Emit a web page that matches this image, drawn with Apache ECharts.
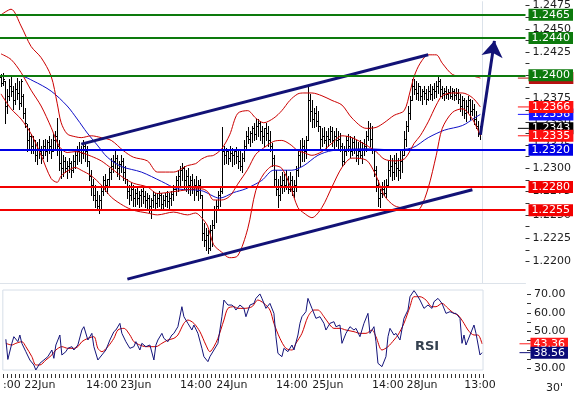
<!DOCTYPE html>
<html><head><meta charset="utf-8">
<script src="https://cdn.jsdelivr.net/npm/echarts@6/dist/echarts.min.js"></script>
<style>html,body{margin:0;padding:0;background:#fff}#c{width:574px;height:396px}</style>
</head><body><div id="c"></div>
<script>
// ---- price bars, 30' : [open, high, low, close]
const bars = [
[1.2398,1.2401,1.2388,1.2392],[1.2392,1.2402,1.2390,1.2396],[1.2394,1.2394,1.2349,1.2367],[1.2367,1.2385,1.2360,1.2378],
[1.2378,1.2396,1.2373,1.2389],[1.2389,1.2399,1.2378,1.2383],[1.2383,1.2389,1.2364,1.2373],[1.2373,1.2392,1.2369,1.2385],
[1.2385,1.2397,1.2375,1.2381],[1.2381,1.2394,1.2364,1.2370],[1.2370,1.2396,1.2367,1.2394],[1.2378,1.2380,1.2354,1.2360],
[1.2360,1.2365,1.2344,1.2349],[1.2346,1.2348,1.2319,1.2330],[1.2330,1.2343,1.2321,1.2335],[1.2335,1.2337,1.2316,1.2324],
[1.2324,1.2335,1.2317,1.2330],[1.2330,1.2330,1.2308,1.2314],[1.2314,1.2328,1.2305,1.2321],[1.2321,1.2332,1.2311,1.2319],
[1.2319,1.2324,1.2306,1.2314],[1.2314,1.2330,1.2311,1.2324],[1.2324,1.2332,1.2314,1.2319],[1.2319,1.2330,1.2308,1.2328],
[1.2328,1.2335,1.2317,1.2324],[1.2324,1.2332,1.2311,1.2319],[1.2319,1.2337,1.2319,1.2330],[1.2330,1.2340,1.2321,1.2335],
[1.2335,1.2354,1.2314,1.2324],[1.2324,1.2330,1.2298,1.2306],[1.2306,1.2319,1.2290,1.2300],[1.2300,1.2314,1.2292,1.2308],
[1.2308,1.2312,1.2296,1.2300],[1.2300,1.2308,1.2290,1.2303],[1.2303,1.2311,1.2296,1.2306],[1.2306,1.2308,1.2291,1.2298],
[1.2298,1.2314,1.2296,1.2308],[1.2308,1.2319,1.2300,1.2314],[1.2314,1.2324,1.2305,1.2319],[1.2319,1.2328,1.2308,1.2321],
[1.2321,1.2324,1.2306,1.2317],[1.2317,1.2330,1.2311,1.2324],[1.2324,1.2328,1.2308,1.2319],[1.2319,1.2324,1.2303,1.2308],
[1.2308,1.2308,1.2287,1.2292],[1.2292,1.2298,1.2271,1.2282],[1.2282,1.2289,1.2266,1.2271],[1.2271,1.2282,1.2258,1.2266],
[1.2266,1.2276,1.2255,1.2260],[1.2260,1.2271,1.2252,1.2266],[1.2266,1.2282,1.2257,1.2276],[1.2276,1.2292,1.2271,1.2287],
[1.2287,1.2294,1.2276,1.2282],[1.2282,1.2289,1.2273,1.2289],[1.2289,1.2300,1.2282,1.2296],[1.2296,1.2311,1.2289,1.2303],
[1.2303,1.2314,1.2296,1.2308],[1.2308,1.2319,1.2300,1.2311],[1.2311,1.2314,1.2292,1.2300],[1.2300,1.2308,1.2289,1.2305],
[1.2305,1.2314,1.2296,1.2308],[1.2308,1.2311,1.2287,1.2296],[1.2296,1.2303,1.2284,1.2289],[1.2289,1.2289,1.2268,1.2276],
[1.2276,1.2282,1.2262,1.2271],[1.2271,1.2284,1.2266,1.2278],[1.2278,1.2282,1.2260,1.2268],[1.2268,1.2278,1.2260,1.2274],
[1.2274,1.2280,1.2262,1.2268],[1.2268,1.2276,1.2258,1.2271],[1.2271,1.2278,1.2260,1.2276],[1.2276,1.2280,1.2263,1.2270],
[1.2270,1.2276,1.2259,1.2266],[1.2266,1.2274,1.2257,1.2268],[1.2268,1.2271,1.2253,1.2260],[1.2260,1.2268,1.2247,1.2266],
[1.2266,1.2276,1.2258,1.2271],[1.2271,1.2274,1.2257,1.2263],[1.2263,1.2273,1.2259,1.2268],[1.2268,1.2276,1.2260,1.2271],
[1.2271,1.2273,1.2257,1.2262],[1.2262,1.2271,1.2255,1.2266],[1.2266,1.2274,1.2260,1.2270],[1.2270,1.2276,1.2259,1.2265],
[1.2265,1.2274,1.2257,1.2268],[1.2268,1.2276,1.2261,1.2272],[1.2272,1.2282,1.2266,1.2278],[1.2278,1.2292,1.2271,1.2287],
[1.2287,1.2298,1.2276,1.2292],[1.2292,1.2303,1.2282,1.2298],[1.2298,1.2306,1.2287,1.2300],[1.2300,1.2303,1.2278,1.2287],
[1.2287,1.2298,1.2276,1.2292],[1.2292,1.2300,1.2274,1.2282],[1.2282,1.2292,1.2271,1.2287],[1.2287,1.2294,1.2273,1.2278],
[1.2278,1.2289,1.2266,1.2282],[1.2282,1.2292,1.2271,1.2276],[1.2276,1.2287,1.2266,1.2282],[1.2282,1.2289,1.2268,1.2271],
[1.2271,1.2271,1.2223,1.2231],[1.2231,1.2241,1.2217,1.2223],[1.2223,1.2236,1.2212,1.2228],[1.2228,1.2234,1.2209,1.2214],
[1.2214,1.2239,1.2212,1.2234],[1.2234,1.2244,1.2217,1.2239],[1.2239,1.2260,1.2236,1.2255],[1.2255,1.2266,1.2242,1.2260],
[1.2260,1.2276,1.2255,1.2271],[1.2271,1.2280,1.2260,1.2276],[1.2276,1.2344,1.2274,1.2319],[1.2319,1.2324,1.2305,1.2314],
[1.2314,1.2322,1.2306,1.2319],[1.2319,1.2321,1.2305,1.2311],[1.2311,1.2324,1.2308,1.2317],[1.2317,1.2322,1.2303,1.2314],
[1.2314,1.2319,1.2305,1.2319],[1.2319,1.2323,1.2306,1.2313],[1.2313,1.2321,1.2300,1.2308],[1.2308,1.2319,1.2298,1.2303],
[1.2303,1.2317,1.2296,1.2311],[1.2311,1.2330,1.2308,1.2324],[1.2324,1.2340,1.2321,1.2335],[1.2335,1.2344,1.2327,1.2332],
[1.2332,1.2340,1.2324,1.2338],[1.2338,1.2346,1.2328,1.2343],[1.2343,1.2349,1.2330,1.2337],[1.2337,1.2353,1.2332,1.2346],
[1.2346,1.2353,1.2335,1.2349],[1.2349,1.2351,1.2330,1.2340],[1.2340,1.2346,1.2327,1.2335],[1.2335,1.2343,1.2324,1.2343],
[1.2343,1.2349,1.2330,1.2338],[1.2338,1.2346,1.2324,1.2330],[1.2330,1.2340,1.2319,1.2324],[1.2324,1.2327,1.2303,1.2311],
[1.2311,1.2314,1.2282,1.2289],[1.2289,1.2298,1.2271,1.2278],[1.2278,1.2289,1.2258,1.2271],[1.2271,1.2292,1.2266,1.2282],
[1.2282,1.2296,1.2274,1.2287],[1.2287,1.2294,1.2276,1.2282],[1.2282,1.2298,1.2278,1.2289],[1.2289,1.2292,1.2273,1.2278],
[1.2278,1.2296,1.2276,1.2287],[1.2287,1.2292,1.2271,1.2276],[1.2276,1.2287,1.2269,1.2282],[1.2282,1.2303,1.2276,1.2298],
[1.2298,1.2319,1.2292,1.2314],[1.2314,1.2330,1.2303,1.2321],[1.2321,1.2333,1.2308,1.2324],[1.2324,1.2330,1.2308,1.2319],
[1.2319,1.2335,1.2311,1.2330],[1.2330,1.2388,1.2330,1.2373],[1.2373,1.2380,1.2351,1.2362],[1.2362,1.2373,1.2344,1.2353],
[1.2353,1.2365,1.2344,1.2360],[1.2360,1.2367,1.2346,1.2351],[1.2351,1.2362,1.2340,1.2346],[1.2346,1.2346,1.2322,1.2332],
[1.2332,1.2343,1.2324,1.2335],[1.2335,1.2344,1.2327,1.2330],[1.2330,1.2340,1.2322,1.2335],[1.2335,1.2343,1.2324,1.2332],
[1.2332,1.2346,1.2328,1.2340],[1.2340,1.2344,1.2324,1.2330],[1.2330,1.2340,1.2322,1.2335],[1.2335,1.2343,1.2324,1.2330],
[1.2330,1.2340,1.2321,1.2332],[1.2332,1.2338,1.2319,1.2324],[1.2324,1.2327,1.2303,1.2308],[1.2308,1.2324,1.2305,1.2319],
[1.2319,1.2335,1.2314,1.2330],[1.2330,1.2337,1.2319,1.2324],[1.2324,1.2335,1.2312,1.2319],[1.2319,1.2333,1.2314,1.2328],
[1.2328,1.2335,1.2317,1.2321],[1.2321,1.2330,1.2308,1.2314],[1.2314,1.2328,1.2305,1.2319],[1.2319,1.2330,1.2311,1.2314],
[1.2314,1.2328,1.2306,1.2321],[1.2321,1.2332,1.2314,1.2324],[1.2324,1.2340,1.2319,1.2335],[1.2335,1.2351,1.2330,1.2343],
[1.2343,1.2349,1.2324,1.2332],[1.2332,1.2346,1.2316,1.2321],[1.2321,1.2321,1.2292,1.2298],[1.2298,1.2303,1.2276,1.2282],
[1.2282,1.2287,1.2260,1.2268],[1.2268,1.2278,1.2258,1.2274],[1.2274,1.2285,1.2269,1.2278],[1.2278,1.2287,1.2271,1.2274],
[1.2274,1.2289,1.2269,1.2282],[1.2282,1.2308,1.2282,1.2298],[1.2298,1.2314,1.2292,1.2303],[1.2303,1.2311,1.2287,1.2296],
[1.2296,1.2314,1.2289,1.2306],[1.2306,1.2316,1.2292,1.2300],[1.2300,1.2311,1.2287,1.2298],[1.2298,1.2319,1.2290,1.2308],
[1.2308,1.2319,1.2296,1.2314],[1.2314,1.2340,1.2314,1.2332],[1.2332,1.2351,1.2324,1.2346],[1.2346,1.2367,1.2340,1.2360],
[1.2360,1.2378,1.2353,1.2373],[1.2373,1.2396,1.2373,1.2389],[1.2389,1.2396,1.2380,1.2385],[1.2385,1.2394,1.2375,1.2381],
[1.2381,1.2392,1.2373,1.2389],[1.2389,1.2389,1.2373,1.2378],[1.2378,1.2385,1.2369,1.2383],[1.2383,1.2389,1.2375,1.2381],
[1.2381,1.2385,1.2369,1.2375],[1.2375,1.2389,1.2373,1.2383],[1.2383,1.2391,1.2375,1.2380],[1.2380,1.2389,1.2373,1.2385],
[1.2385,1.2392,1.2376,1.2383],[1.2383,1.2394,1.2377,1.2389],[1.2389,1.2399,1.2381,1.2394],[1.2394,1.2396,1.2378,1.2385],
[1.2385,1.2389,1.2376,1.2381],[1.2381,1.2386,1.2373,1.2383],[1.2383,1.2389,1.2376,1.2380],[1.2380,1.2385,1.2375,1.2382],
[1.2382,1.2388,1.2376,1.2378],[1.2378,1.2386,1.2374,1.2383],[1.2383,1.2385,1.2373,1.2379],[1.2379,1.2386,1.2375,1.2381],
[1.2381,1.2385,1.2370,1.2375],[1.2375,1.2380,1.2362,1.2367],[1.2367,1.2378,1.2357,1.2373],[1.2373,1.2376,1.2354,1.2360],
[1.2360,1.2373,1.2351,1.2367],[1.2367,1.2378,1.2359,1.2373],[1.2373,1.2375,1.2353,1.2362],[1.2362,1.2373,1.2357,1.2364],
[1.2364,1.2369,1.2348,1.2353],[1.2353,1.2362,1.2343,1.2346],[1.2346,1.2351,1.2335,1.2338],[1.2338,1.2346,1.2332,1.2343]
];
// ---- Bollinger bands and moving average, read at sample bars: [bar, price]
const bandUpper = [[0,1.2465],[5,1.2471],[10,1.2453],[15,1.2431],[20,1.2419],[25,1.2399],[28,1.2370],[30,1.2349],[33,1.2337],[37,1.2334],[40,1.2333],[45,1.2335],[50,1.2333],[55,1.2330],[61,1.2319],[66,1.2312],[73,1.2308],[78,1.2296],[86,1.2296],[93,1.2303],[97,1.2305],[100,1.2310],[103,1.2313],[106,1.2314],[110,1.2321],[114,1.2336],[118,1.2359],[123,1.2362],[127,1.2354],[131,1.2349],[136,1.2354],[140,1.2362],[144,1.2373],[148,1.2380],[151,1.2381],[155,1.2381],[160,1.2378],[165,1.2373],[170,1.2368],[175,1.2354],[182,1.2343],[187,1.2344],[191,1.2349],[196,1.2357],[201,1.2362],[204,1.2383],[206,1.2399],[209,1.2413],[213,1.2422],[217,1.2422],[220,1.2413],[225,1.2401],[230,1.2399],[235,1.2399],[239,1.2397]];
const bandMiddle = [[0,1.2423],[5,1.2417],[10,1.2403],[15,1.2384],[20,1.2367],[25,1.2344],[28,1.2328],[30,1.2321],[33,1.2317],[37,1.2318],[40,1.2317],[45,1.2313],[50,1.2308],[55,1.2300],[61,1.2290],[66,1.2284],[73,1.2280],[78,1.2273],[86,1.2275],[93,1.2277],[97,1.2278],[100,1.2278],[103,1.2275],[106,1.2266],[110,1.2266],[114,1.2270],[118,1.2283],[123,1.2299],[127,1.2315],[131,1.2322],[136,1.2329],[140,1.2330],[144,1.2326],[148,1.2319],[151,1.2317],[155,1.2314],[160,1.2318],[165,1.2327],[170,1.2335],[175,1.2333],[182,1.2325],[187,1.2318],[191,1.2310],[196,1.2308],[201,1.2310],[204,1.2319],[206,1.2327],[209,1.2335],[213,1.2350],[217,1.2368],[220,1.2378],[225,1.2381],[230,1.2381],[235,1.2376],[239,1.2366]];
const bandLower = [[0,1.2380],[5,1.2364],[10,1.2353],[15,1.2337],[20,1.2314],[25,1.2289],[28,1.2285],[30,1.2292],[33,1.2297],[37,1.2301],[40,1.2298],[45,1.2292],[50,1.2282],[55,1.2269],[61,1.2260],[66,1.2255],[73,1.2252],[78,1.2250],[86,1.2253],[93,1.2250],[97,1.2252],[100,1.2247],[103,1.2238],[106,1.2218],[110,1.2210],[114,1.2204],[118,1.2206],[123,1.2235],[127,1.2276],[131,1.2294],[136,1.2303],[140,1.2300],[144,1.2282],[148,1.2258],[151,1.2252],[155,1.2247],[160,1.2258],[165,1.2280],[170,1.2301],[175,1.2311],[182,1.2309],[187,1.2292],[191,1.2271],[196,1.2260],[201,1.2257],[204,1.2255],[206,1.2255],[209,1.2257],[213,1.2279],[217,1.2314],[220,1.2343],[225,1.2360],[230,1.2364],[235,1.2353],[239,1.2335]];
const movingAvg = [[0,1.2399],[10,1.2399],[16,1.2394],[25,1.2383],[33,1.2367],[38,1.2353],[43,1.2338],[48,1.2325],[53,1.2312],[60,1.2302],[70,1.2296],[80,1.2286],[88,1.2278],[100,1.2276],[109,1.2268],[116,1.2274],[122,1.2278],[130,1.2287],[136,1.2298],[145,1.2298],[151,1.2303],[158,1.2314],[165,1.2319],[182,1.2321],[195,1.2320],[205,1.2322],[213,1.2333],[221,1.2341],[230,1.2346],[236,1.2354],[239,1.2358]];
// ---- RSI and its average: [bar, value]
const rsi = [[1,45.8],[2,34.9],[4,43.6],[5,47.2],[7,44.5],[8,48.1],[9,43.6],[11,39.1],[13,34.6],[15,31.9],[16,29.2],[18,32.8],[20,34.6],[22,36.4],[24,40.0],[25,35.5],[26,42.7],[28,48.1],[29,37.3],[31,39.1],[32,40.9],[34,41.8],[35,40.0],[37,42.7],[39,50.8],[40,52.6],[42,45.4],[44,49.0],[45,41.8],[47,34.6],[49,37.3],[51,40.0],[53,45.4],[55,49.9],[56,50.8],[58,54.4],[59,49.0],[61,44.5],[63,40.9],[65,41.8],[66,44.5],[68,40.0],[69,43.6],[71,41.8],[73,42.7],[75,34.6],[76,42.7],[77,45.4],[79,49.0],[80,46.3],[82,44.5],[84,48.1],[85,49.0],[87,52.6],[89,63.4],[90,58.0],[92,54.4],[94,50.8],[95,53.5],[97,49.0],[99,40.9],[100,36.4],[102,33.7],[103,36.4],[105,40.0],[107,43.6],[109,58.0],[110,67.0],[112,64.3],[114,64.3],[115,63.4],[116,61.6],[118,64.3],[120,62.5],[121,58.0],[123,64.3],[125,65.2],[126,67.9],[128,70.3],[129,67.9],[131,62.5],[133,65.2],[135,59.8],[136,47.2],[137,38.2],[139,36.4],[140,40.9],[142,39.1],[144,42.7],[145,40.0],[147,48.1],[148,54.4],[149,58.0],[151,60.7],[152,67.9],[154,62.5],[156,57.1],[158,58.0],[160,54.4],[161,50.8],[163,54.4],[165,55.3],[166,52.6],[168,53.5],[169,43.6],[171,49.0],[173,52.6],[175,50.8],[176,51.7],[178,47.2],[180,54.4],[182,59.8],[183,49.0],[185,52.6],[186,44.5],[187,32.8],[189,31.0],[191,36.4],[192,47.2],[193,51.7],[195,48.1],[196,49.0],[198,45.4],[200,57.1],[202,61.6],[203,68.8],[205,72.1],[206,70.6],[208,67.0],[210,62.5],[212,64.3],[214,62.5],[215,66.1],[217,67.9],[219,65.2],[221,59.8],[223,60.7],[225,59.8],[226,59.8],[228,57.1],[229,43.6],[230,48.1],[231,42.7],[233,48.1],[235,53.5],[236,49.0],[238,37.3],[239,38.56]];
const rsiAvg = [[1,43.6],[4,42.7],[6,43.6],[9,44.5],[11,41.8],[14,36.4],[16,31.9],[18,31.9],[21,34.6],[24,37.3],[26,40.0],[29,41.8],[32,40.9],[35,40.9],[37,41.8],[39,44.5],[42,46.3],[45,47.2],[47,40.9],[49,39.1],[52,41.8],[55,46.3],[57,50.8],[60,51.7],[63,48.1],[65,44.5],[68,42.7],[71,41.8],[74,41.8],[76,41.8],[79,43.6],[82,45.4],[85,46.3],[87,48.1],[90,54.4],[92,56.2],[95,54.4],[98,49.9],[101,42.7],[103,39.1],[105,41.8],[107,46.3],[110,56.2],[112,62.5],[115,63.4],[117,62.5],[120,62.5],[124,63.4],[127,67.0],[130,65.2],[133,61.6],[135,54.4],[138,46.3],[141,40.9],[144,40.0],[146,43.6],[149,49.0],[152,58.0],[155,61.6],[157,61.6],[160,58.0],[163,53.5],[165,51.7],[168,51.7],[171,50.8],[175,49.9],[178,49.0],[181,49.0],[184,50.8],[186,47.2],[189,40.0],[192,41.8],[195,45.4],[197,48.1],[200,54.4],[203,63.4],[205,68.8],[208,68.8],[211,67.0],[214,63.4],[216,63.4],[219,65.2],[222,62.5],[225,59.8],[227,58.9],[230,54.4],[232,50.8],[235,48.1],[237,48.1],[239,43.36]];
// ---- drawn levels and trend annotations
const levelsGreen = [1.2465, 1.2440, 1.2400];
const levelsBlue = [1.2320];
const levelsRed = [1.2280, 1.2255];
const channelUpper = [[40,1.2326],[213,1.2422]];
const channelLower = [[63,1.2181],[235,1.2277]];
const arrowPath = [[239,1.2336],[246,1.2437]];
// ---- axis labels
const priceTicks = [1.2200,1.2225,1.2250,1.2275,1.2300,1.2325,1.2350,1.2375,1.2400,1.2425,1.2450,1.2475];
const rsiTicks = [30,40,50,60,70];
const timeLabels = [[4,':00'],[18,'22Jun'],[49,'14:00'],[66,'23Jun'],[96,'14:00'],[114,'24Jun'],[144,'14:00'],[162,'25Jun'],[192,'14:00'],[209,'28Jun'],[238,'13:00']];
const periodLabel = "30'";

// ---------------------------------------------------------------
const FONT = 'DejaVu Sans';
const N_MAIN = 262, N_RSI = bars.length;
const mainSlots = Array.from({length:N_MAIN}, (_, i) => String(i));
const rsiSlots = Array.from({length:N_RSI}, (_, i) => String(i));
const labelMap = {}; timeLabels.forEach(t => labelMap[t[0]] = t[1]);
const last = a => a[a.length - 1];
const lastIdx = bars.length - 1;

const GREEN = '#0d7a0d', RED = '#f20000', BLUE = '#0000e6', NAVY = '#121276';

function tagLabel(bg, digits) {
  return {show:true, position:'right', distance:0, color:'#fff', backgroundColor:bg,
    padding:[1,3,0,3], fontSize:11, lineHeight:11, fontFamily:FONT,
    formatter: p => Number(p.value).toFixed(digits)};
}
function tag(value, color, digits, z) {
  return {z:z, symbol:'rect', symbolSize:[11,1], symbolOffset:[43,0], silent:true, precision:6,
    data:[{coord:[lastIdx, value], value:value, itemStyle:{color:color}, label:tagLabel(color, digits)}]};
}
function levelSeries(v, color) {
  return {type:'line', xAxisIndex:0, yAxisIndex:0, data:[], z:6, silent:true,
    markLine:{z:20, silent:true, precision:6, symbol:['none','none'],
      lineStyle:{color:color, width:2, type:'solid'},
      label:{show:true, position:'end', distance:3, color:'#fff', backgroundColor:color,
        padding:[1,3,0,3], fontSize:11, lineHeight:11, fontFamily:FONT, formatter: p => Number(p.value).toFixed(4)},
      data:[{yAxis:v}]}};
}
function segmentSeries(path, withArrow) {
  return {type:'line', xAxisIndex:0, yAxisIndex:0, data:[], z:5, silent:true,
    markLine:{z:15, silent:true, precision:6, symbol:['none', withArrow ? 'arrow' : 'none'], symbolSize:16,
      lineStyle:{color:NAVY, width:3, type:'solid'}, label:{show:false},
      data:[[{coord:path[0]}, {coord:path[1]}]]}};
}
function renderOHLC(params, api) {
  const i = api.value(0);
  const pO = api.coord([i, api.value(1)]);
  const pH = api.coord([i, api.value(2)]);
  const pL = api.coord([i, api.value(3)]);
  const pC = api.coord([i, api.value(4)]);
  const x = Math.round(pO[0]) + 0.5;
  const yo = Math.round(pO[1]) + 0.5, yc = Math.round(pC[1]) + 0.5;
  const st = {stroke:'#000', lineWidth:1};
  return {type:'group', children:[
    {type:'line', shape:{x1:x, y1:Math.round(pH[1]), x2:x, y2:Math.round(pL[1]) + 1}, style:st},
    {type:'line', shape:{x1:x - 1.5, y1:yo, x2:x, y2:yo}, style:st},
    {type:'line', shape:{x1:x, y1:yc, x2:x + 1.5, y2:yc}, style:st}
  ]};
}

const axisText = {fontSize:11, fontFamily:FONT, color:'#1c1c1c'};
const minorPrice = priceTicks.flatMap(v => [v, v + 0.00125]);
const minorRsi = rsiTicks.flatMap(v => [v, v + 5]).filter(v => v <= 70);

const series = [
  {type:'line', xAxisIndex:0, yAxisIndex:0, data:[], z:1, silent:true,
    markLine:{z:1, silent:true, symbol:['none','none'], label:{show:false},
      lineStyle:{color:'#dbe2ea', width:1, type:'solid'}, data:[{xAxis:240}]}},
  {type:'custom', name:'price', xAxisIndex:0, yAxisIndex:0, z:2, silent:true,
    renderItem:renderOHLC, encode:{x:0, y:[1,2,3,4]},
    data:bars.map((b, i) => [i, b[0], b[1], b[2], b[3]])},
  {type:'line', xAxisIndex:0, yAxisIndex:0, z:2, silent:true, showSymbol:false, symbol:'none',
    lineStyle:{opacity:0}, data:[[lastIdx, last(bars)[3]]],
    markPoint:tag(last(bars)[3], '#000', 4, 10)},
  {type:'line', name:'ma', xAxisIndex:0, yAxisIndex:0, z:3, silent:true, symbol:'none', smooth:0.3,
    lineStyle:{color:'#1010c8', width:1}, data:movingAvg, markPoint:tag(last(movingAvg)[1], '#1414ff', 4, 11)},
  {type:'line', name:'upper', xAxisIndex:0, yAxisIndex:0, z:4, silent:true, symbol:'none', smooth:0.3,
    lineStyle:{color:'#cc0000', width:1}, data:bandUpper, markPoint:tag(last(bandUpper)[1], '#b81010', 4, 12)},
  {type:'line', name:'middle', xAxisIndex:0, yAxisIndex:0, z:4, silent:true, symbol:'none', smooth:0.3,
    lineStyle:{color:'#cc0000', width:1}, data:bandMiddle, markPoint:tag(last(bandMiddle)[1], '#ff1010', 4, 12)},
  {type:'line', name:'lower', xAxisIndex:0, yAxisIndex:0, z:4, silent:true, symbol:'none', smooth:0.3,
    lineStyle:{color:'#cc0000', width:1}, data:bandLower, markPoint:tag(last(bandLower)[1], '#ff1010', 4, 12)},
  segmentSeries(channelUpper, false),
  segmentSeries(channelLower, false),
  segmentSeries(arrowPath, true),
  {type:'line', name:'rsiAvg', xAxisIndex:1, yAxisIndex:1, z:3, silent:true, symbol:'none', smooth:0.3,
    lineStyle:{color:'#d00000', width:1}, data:rsiAvg, markPoint:tag(last(rsiAvg)[1], '#ff1a1a', 2, 11)},
  {type:'line', name:'rsi', xAxisIndex:1, yAxisIndex:1, z:4, silent:true, symbol:'none',
    lineStyle:{color:'#14147a', width:1}, data:rsi, markPoint:tag(last(rsi)[1], '#0a0a78', 2, 12)}
].concat(
  levelsGreen.map(v => levelSeries(v, GREEN)),
  levelsBlue.map(v => levelSeries(v, BLUE)),
  levelsRed.map(v => levelSeries(v, RED))
);

const option = {
  animation:false,
  backgroundColor:'#fff',
  textStyle:{fontFamily:FONT},
  title:[
    {text:'RSI', left:415, top:340, padding:0, textStyle:{fontSize:13, fontWeight:'bold', color:'#34414f', fontFamily:FONT}},
    {text:periodLabel, left:546, top:383, padding:0, textStyle:{fontSize:11, fontWeight:'normal', color:'#1c1c1c', fontFamily:FONT}}
  ],
  grid:[
    {left:0, top:0, width:527, height:283},
    {left:0, top:290, width:483, height:80, show:true, borderColor:'#d6dee8', borderWidth:1, backgroundColor:'transparent'}
  ],
  xAxis:[
    {type:'category', gridIndex:0, data:mainSlots, boundaryGap:true,
      axisLine:{show:true, lineStyle:{color:'#dde3ea'}}, axisTick:{show:false}, axisLabel:{show:false}, splitLine:{show:false}},
    {type:'category', gridIndex:1, data:rsiSlots, boundaryGap:true, offset:4,
      axisLine:{show:false},
      axisTick:{show:true, interval:1, length:4, lineStyle:{color:'#333'}},
      axisLabel:Object.assign({interval:(idx) => labelMap[idx] !== undefined, margin:6,
        formatter:(v, idx) => labelMap[idx] || ''}, axisText),
      splitLine:{show:false}}
  ],
  yAxis:[
    {type:'value', gridIndex:0, position:'right', min:1.21768, max:1.24795,
      axisLine:{show:false}, splitLine:{show:false},
      axisTick:{show:true, length:4, customValues:minorPrice, lineStyle:{color:'#333'}},
      axisLabel:Object.assign({customValues:priceTicks, margin:7, formatter:v => v.toFixed(4)}, axisText)},
    {type:'value', gridIndex:1, position:'right', offset:44, min:29.19, max:72.43,
      axisLine:{show:false}, splitLine:{show:false},
      axisTick:{show:true, length:4, customValues:minorRsi, lineStyle:{color:'#333'}},
      axisLabel:Object.assign({customValues:rsiTicks, margin:7, formatter:v => v.toFixed(2)}, axisText)}
  ],
  series:series
};
const chart = echarts.init(document.getElementById('c'), null, {renderer:'canvas'});
chart.setOption(option);
</script></body></html>
